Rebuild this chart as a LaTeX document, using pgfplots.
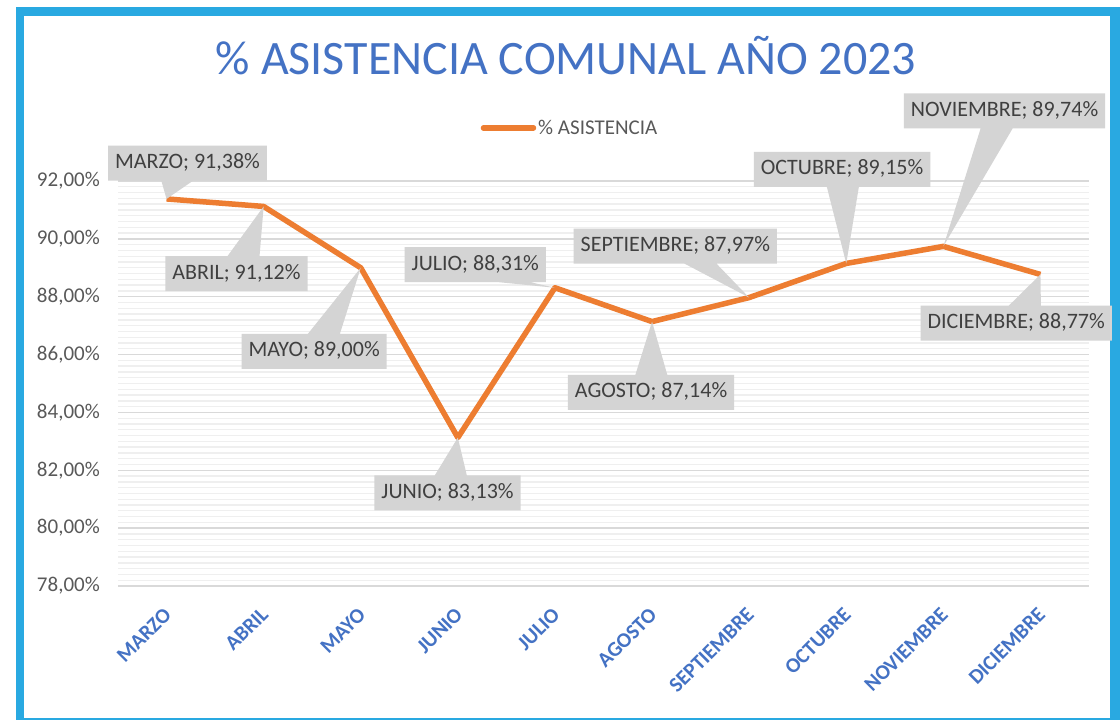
\documentclass[border=0pt]{standalone}
\usepackage{fontspec}
\setmainfont{Carlito}
\usepackage{pgfplots}
\pgfplotsset{compat=1.18}
\usetikzlibrary{shapes.callouts}
\definecolor{frameblue}{HTML}{29A9E1}
\definecolor{titleblue}{HTML}{4472C4}
\definecolor{lineorange}{HTML}{ED7D31}
\definecolor{tickgray}{HTML}{595959}
\definecolor{labgray}{HTML}{404040}
\definecolor{boxgray}{HTML}{D4D4D4}
\definecolor{majgrid}{HTML}{D9D9D9}
\definecolor{mingrid}{HTML}{EFEFEF}
\begin{document}
\begin{tikzpicture}[
  lab/.style={rectangle callout, fill=boxgray, text=labgray,
    font=\fontsize{22}{26}\selectfont, inner xsep=7pt, inner ysep=8pt,
    text height=15pt, text depth=4pt, callout pointer width=32pt}]
\useasboundingbox (0pt,0pt) rectangle (1120pt,720pt);
\fill[frameblue] (16pt,0pt) rectangle (1120pt,713pt);
\fill[white] (24pt,2pt) rectangle (1110pt,704pt);
\node[anchor=base, text=titleblue, font=\fontsize{48}{56}\selectfont] at (566pt,645pt) {\% ASISTENCIA COMUNAL AÑO 2023};
\begin{axis}[
  at={(118pt,134pt)}, anchor=south west,
  scale only axis, width=971pt, height=405pt,
  xmin=-0.5, xmax=9.5, ymin=78, ymax=92,
  xtick={0,...,9},
  xticklabels={MARZO,ABRIL,MAYO,JUNIO,JULIO,AGOSTO,SEPTIEMBRE,OCTUBRE,NOVIEMBRE,DICIEMBRE},
  ytick={78,80,82,84,86,88,90,92},
  yticklabels={{78,00\%},{80,00\%},{82,00\%},{84,00\%},{86,00\%},{88,00\%},{90,00\%},{92,00\%}},
  minor y tick num=9,
  ymajorgrids, yminorgrids,
  major grid style={majgrid, line width=1.3pt},
  minor grid style={mingrid, line width=1.3pt},
  axis line style={draw=none},
  major tick length=0pt, minor tick length=0pt,
  tick style={draw=none},
  yticklabel style={font=\fontsize{21}{25}\selectfont, text=tickgray, anchor=east, inner sep=0pt, xshift=-18pt},
  xticklabel style={font=\fontsize{21}{25}\selectfont\bfseries, text=titleblue, rotate=45, anchor=north east, inner sep=0pt, xshift=-17pt, yshift=-11.5pt},
  clip=false,
  legend style={at={(0.4655,1.131)}, anchor=center, draw=none, fill=none,
    font=\fontsize{21}{25}\selectfont, text=tickgray},
  legend image code/.code={\draw[#1, line cap=round] (0pt,0pt) -- (50pt,0pt);},
]
\addplot[lineorange, line width=5.5pt, line join=round] coordinates {
  (0,91.38) (1,91.12) (2,89.00) (3,83.13) (4,88.31)
  (5,87.14) (6,87.97) (7,89.15) (8,89.74) (9,88.77)};
\addlegendentry{\% ASISTENCIA}
\node[lab, callout absolute pointer={(axis cs:0,91.38)}] at (axis cs:0.216,92.62) {MARZO; 91,38\%};
\node[lab, callout absolute pointer={(axis cs:1,91.12)}] at (axis cs:0.72,88.80) {ABRIL; 91,12\%};
\node[lab, callout absolute pointer={(axis cs:2,89.00)}] at (axis cs:1.52,86.11) {MAYO; 89,00\%};
\node[lab, callout absolute pointer={(axis cs:3,83.13)}] at (axis cs:2.894,81.22) {JUNIO; 83,13\%};
\node[lab, callout absolute pointer={(axis cs:4,88.31)}] at (axis cs:3.18,89.11) {JULIO; 88,31\%};
\node[lab, callout absolute pointer={(axis cs:5,87.14)}] at (axis cs:4.99,84.69) {AGOSTO; 87,14\%};
\node[lab, callout absolute pointer={(axis cs:6,87.97)}] at (axis cs:5.24,89.75) {SEPTIEMBRE; 87,97\%};
\node[lab, callout absolute pointer={(axis cs:7,89.15)}] at (axis cs:6.957,92.40) {OCTUBRE; 89,15\%};
\node[lab, callout absolute pointer={(axis cs:8,89.74)}] at (axis cs:8.63,94.42) {NOVIEMBRE; 89,74\%};
\node[lab, callout absolute pointer={(axis cs:9,88.77)}] at (axis cs:8.75,87.09) {DICIEMBRE; 88,77\%};
\end{axis}
\end{tikzpicture}
\end{document}
